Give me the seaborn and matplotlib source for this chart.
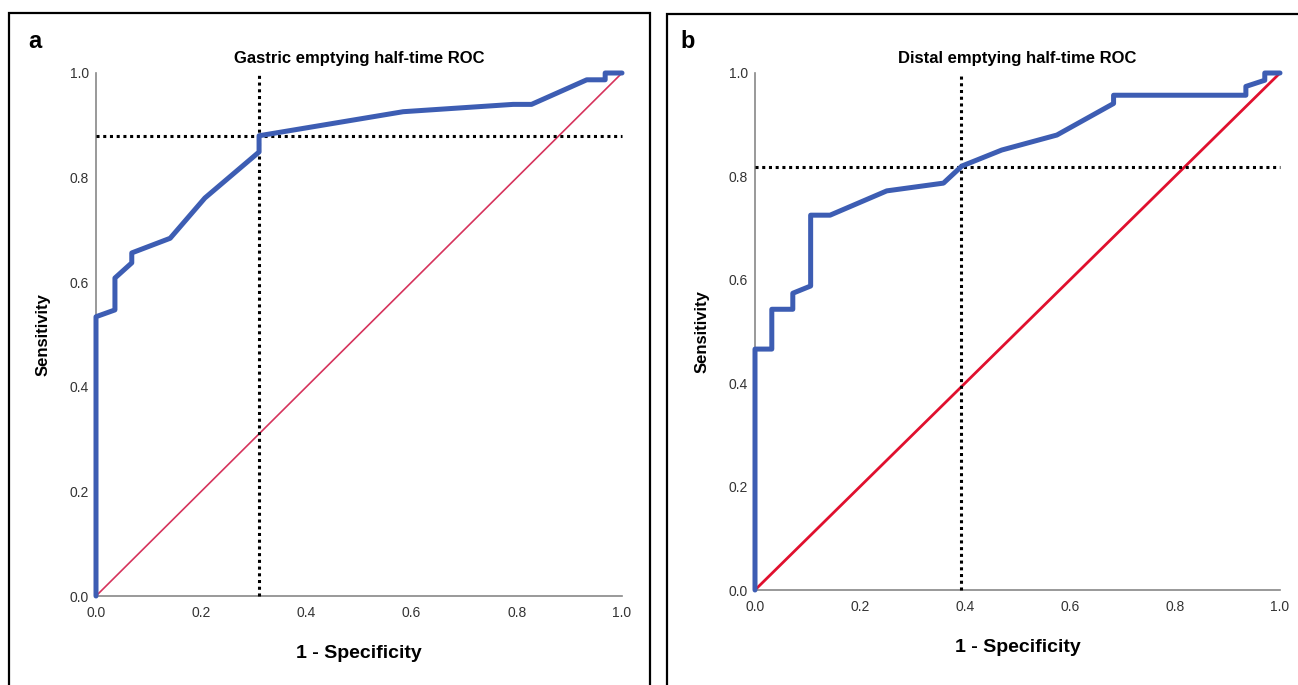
import matplotlib
matplotlib.use("Agg")
import matplotlib.pyplot as plt
import pandas as pd
import seaborn as sns
from matplotlib.patches import Rectangle

# ROC curve points (1 - specificity, sensitivity)
gastric_fpr = [0.0, 0.0, 0.036, 0.036, 0.068, 0.068, 0.141, 0.207, 0.31, 0.31,
               0.584, 0.793, 0.828, 0.933, 0.968, 0.968, 1.0]
gastric_tpr = [0.0, 0.534, 0.547, 0.608, 0.637, 0.656, 0.684, 0.761, 0.849, 0.88,
               0.926, 0.94, 0.94, 0.987, 0.987, 1.0, 1.0]
gastric_cut_x = 0.31
gastric_cut_y = 0.88

distal_fpr = [0.0, 0.0, 0.032, 0.032, 0.072, 0.072, 0.106, 0.106, 0.143, 0.251,
              0.359, 0.394, 0.47, 0.575, 0.683, 0.683, 0.935, 0.935, 0.971, 0.971, 1.0]
distal_tpr = [0.0, 0.466, 0.466, 0.543, 0.543, 0.574, 0.588, 0.725, 0.725, 0.772,
              0.787, 0.82, 0.851, 0.88, 0.941, 0.957, 0.957, 0.974, 0.986, 1.0, 1.0]
distal_cut_x = 0.392
distal_cut_y = 0.818

ref_line = [0.0, 1.0]
ticks = [0.0, 0.2, 0.4, 0.6, 0.8, 1.0]
tick_labels = ["0.0", "0.2", "0.4", "0.6", "0.8", "1.0"]

sns.set_style("white")
plt.rcParams["font.family"] = ["Liberation Sans", "DejaVu Sans"]
plt.rcParams["text.color"] = "black"
plt.rcParams["axes.labelcolor"] = "black"

BLUE = "#3d5db3"

fig = plt.figure(figsize=(12.98, 6.85), dpi=100)

# panel frames
fig.add_artist(Rectangle((9 / 1298, -0.1), 641 / 1298, 1.1 - 13 / 685, transform=fig.transFigure,
                         fill=False, edgecolor="black", linewidth=1.6))
fig.add_artist(Rectangle((667 / 1298, -0.1), 700 / 1298, 1.1 - 14 / 685, transform=fig.transFigure,
                         fill=False, edgecolor="black", linewidth=1.6))

ax_a = fig.add_axes([96 / 1298, 89 / 685, 526 / 1298, 523 / 685])
ax_b = fig.add_axes([755 / 1298, 95 / 685, 525 / 1298, 517 / 685])


def draw_panel(ax, fpr, tpr, cut_x, cut_y, title, diag_color, diag_lw):
    sns.lineplot(x=ref_line, y=ref_line, ax=ax, color=diag_color, linewidth=diag_lw,
                 estimator=None, sort=False, zorder=2)
    ax.plot([0, 1], [cut_y, cut_y], linestyle=(0, (1, 1.2)), color="black", linewidth=2.2, zorder=3)
    ax.plot([cut_x, cut_x], [0, 1], linestyle=(0, (1, 1.2)), color="black", linewidth=2.2, zorder=3)
    df = pd.DataFrame({"fpr": fpr, "tpr": tpr})
    sns.lineplot(data=df, x="fpr", y="tpr", ax=ax, color=BLUE, linewidth=3.6,
                 estimator=None, sort=False, zorder=4)
    ax.set_xlim(0, 1)
    ax.set_ylim(0, 1)
    ax.set_xticks(ticks)
    ax.set_xticklabels(tick_labels)
    ax.set_yticks(ticks)
    ax.set_yticklabels(tick_labels)
    ax.tick_params(axis="both", length=0, labelsize=10, labelcolor="#333333")
    ax.tick_params(axis="x", pad=7)
    ax.tick_params(axis="y", pad=5)
    for side in ["top", "right"]:
        ax.spines[side].set_visible(False)
    for side in ["left", "bottom"]:
        ax.spines[side].set_color("#888888")
        ax.spines[side].set_linewidth(1.2)
    ax.set_xlabel("1 - Specificity", fontsize=14, fontweight="bold", labelpad=18)
    ax.set_ylabel("Sensitivity", fontsize=12, fontweight="bold", labelpad=14)
    ax.set_title(title, fontsize=12, fontweight="bold", pad=7)
    for ln in ax.lines:
        ln.set_clip_on(False)


draw_panel(ax_a, gastric_fpr, gastric_tpr, gastric_cut_x, gastric_cut_y,
           "Gastric emptying half-time ROC", "#d6335c", 1.2)
draw_panel(ax_b, distal_fpr, distal_tpr, distal_cut_x, distal_cut_y,
           "Distal emptying half-time ROC", "#e0102e", 2.0)

fig.text(35 / 1298, 1 - 42 / 685, "a", fontsize=17, fontweight="bold", ha="center", va="center")
fig.text(688 / 1298, 1 - 42 / 685, "b", fontsize=17, fontweight="bold", ha="center", va="center")

fig.savefig("out.png", dpi=100)
